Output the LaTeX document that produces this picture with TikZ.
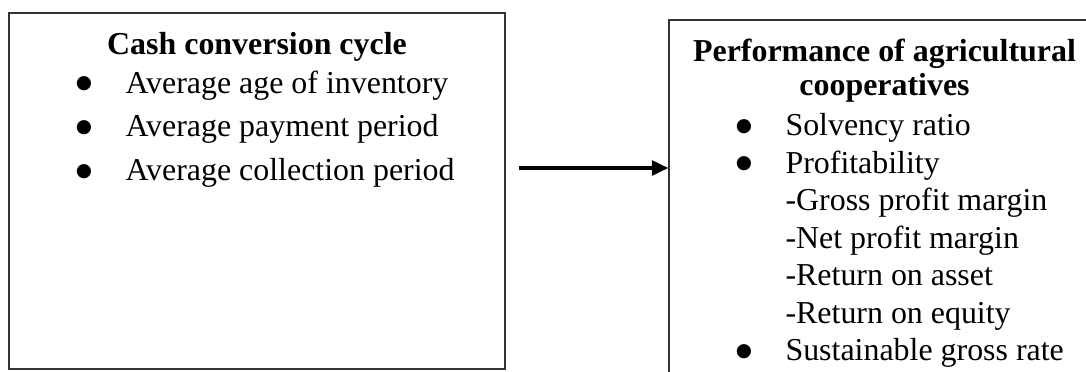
\documentclass[tikz,border=0pt]{standalone}
\usepackage{fontspec}
\setmainfont{Liberation Serif}
\newfontfamily\dotfont{DejaVu Sans}
\usetikzlibrary{arrows.meta,positioning,fit}

\newcommand{\bul}{\makebox[17.9pt][l]{\hspace*{-0.8pt}\raisebox{1.7pt}{\dotfont\fontsize{7pt}{7pt}\selectfont ●}}}
\newcommand{\subindent}{\hspace*{17.9pt}}

\begin{document}
\begin{tikzpicture}[
    x=0.376pt, y=-0.376pt,
    box/.style={rectangle, draw=black!80, line width=0.5pt, inner sep=0pt},
    head/.style={font=\bfseries\fontsize{12pt}{13pt}\selectfont, align=center, inner sep=0pt},
    list/.style={font=\fontsize{12pt}{14.1pt}\selectfont, align=left, inner sep=0pt},
    arrow/.style={-{Triangle[length=6.2pt, width=5.6pt]}, line width=1.2pt}
]
\useasboundingbox (0,0) rectangle (1086,371);
\clip (0,0) rectangle (1086,371);

% Boxes
\node[box, fit={(9,13) (505,369)}] (ccc) {};
\node[box, fit={(669,20) (1110,400)}] (perf) {};

% Texts
\node[head, anchor=north] (ccctitle) at (257,32) {Cash conversion cycle};
\node[list, anchor=north west, font=\fontsize{12pt}{16.5pt}\selectfont] (ccclist) at (77.4,70)
    {\bul Average age of inventory\\
     \bul Average payment period\\
     \bul Average collection period};
\node[head, anchor=north] (perftitle) at (884.5,38) {Performance of agricultural\\cooperatives};
\node[list, anchor=north west] (perflist) at (737.4,113)
    {\bul Solvency ratio\\
     \bul Profitability\\
     \subindent-Gross profit margin\\
     \subindent-Net profit margin\\
     \subindent-Return on asset\\
     \subindent-Return on equity\\
     \bul Sustainable gross rate};

% Arrow
\path (ccc.east) ++(0,-23) coordinate (start);
\draw[arrow, shorten <=4.9pt] (start) -- (start -| perf.west);

\end{tikzpicture}
\end{document}
